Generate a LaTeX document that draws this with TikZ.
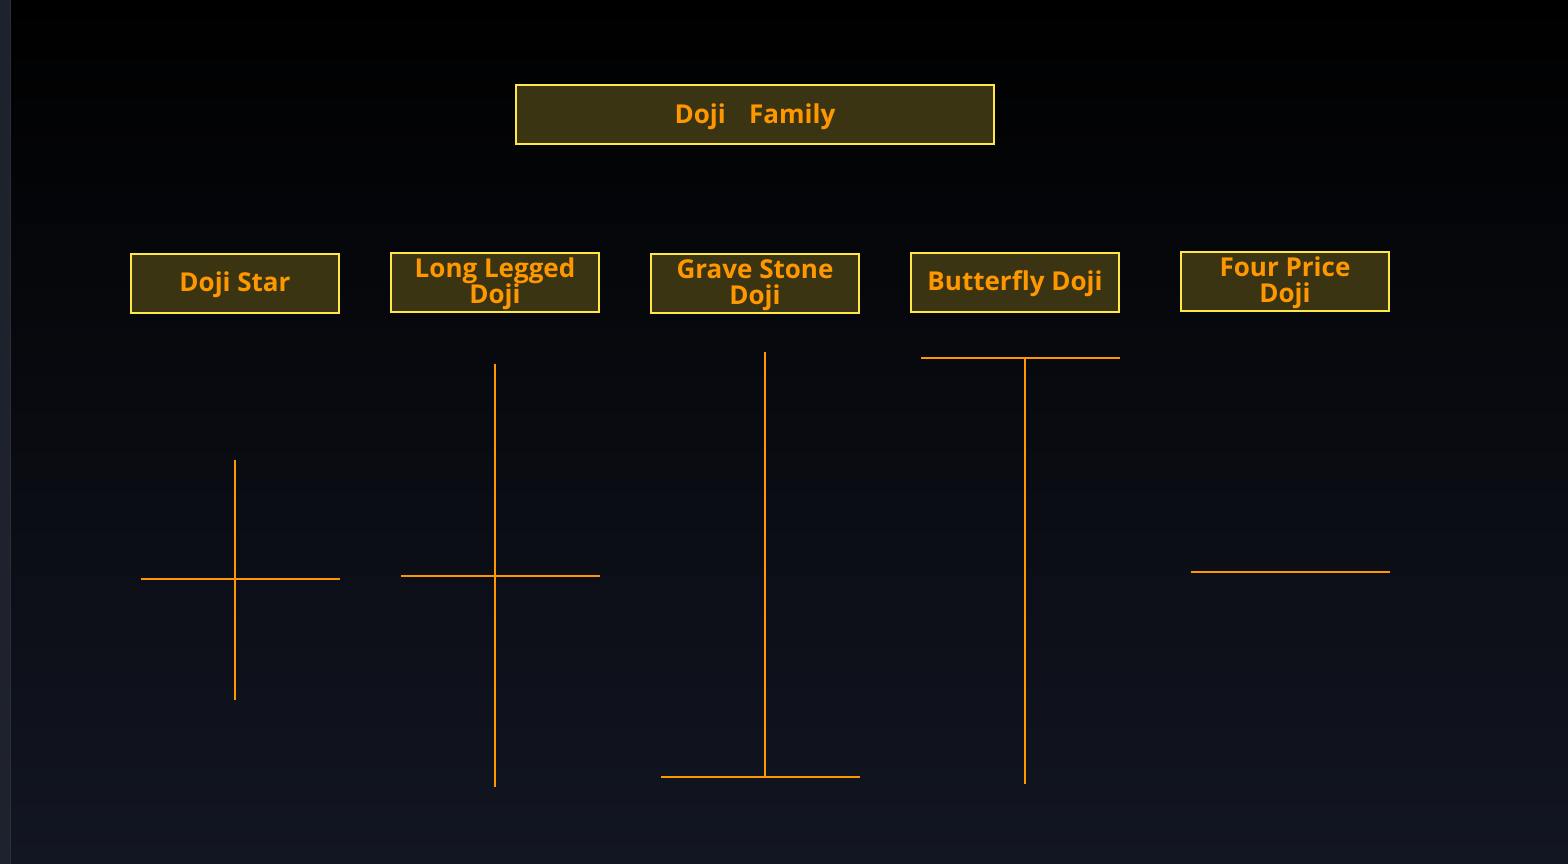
\documentclass[tikz,border=0pt]{standalone}
\usepackage{fontspec}
\setmainfont{Open Sans}
\definecolor{bgtop}{HTML}{000000}
\definecolor{bgbot}{HTML}{121622}
\definecolor{strip}{HTML}{1E222D}
\definecolor{stripline}{HTML}{2A2E39}
\definecolor{boxfill}{HTML}{3A3413}
\definecolor{boxline}{HTML}{FFE74A}
\definecolor{dojiorange}{HTML}{FF9800}
\tikzset{
  famlabel/.style={draw=boxline, line width=2pt, fill=boxfill, text=dojiorange,
    minimum width=208pt, minimum height=59pt, inner sep=0pt, align=center,
    text depth=2pt, font=\fontsize{26}{26}\selectfont\bfseries},
  wick/.style={draw=dojiorange, line width=2pt}
}
\begin{document}
\begin{tikzpicture}[x=1pt, y=-1pt]
    % Background
    \shade[top color=bgtop, bottom color=bgbot] (0,0) rectangle (1568,863);
    \fill[strip] (0,0) rectangle (10,863);
    \draw[stripline, line width=1pt] (10,0) -- (10,863);
    \useasboundingbox (0,0) rectangle (1568,863);

    % Draw nodes
    \node[famlabel, minimum width=478pt] (family) at (755,114.5) {Doji\hspace{0.9em}Family};
    \node[famlabel] (star) at (235,282.5) {Doji Star};
    \node[famlabel] (long) at (495,281.5) {Long Legged\\Doji};
    \node[famlabel] (grave) at (755,282.5) {Grave Stone\\Doji};
    \node[famlabel] (butterfly) at (1015,281.5) {Butterfly Doji};
    \node[famlabel] (four) at (1285,280.5) {Four Price\\Doji};

    % Draw candles
    \draw[wick] (235,459) -- (235,699);
    \draw[wick] (141,578) -- (340,578);
    \draw[wick] (495,363) -- (495,786);
    \draw[wick] (401,575) -- (600,575);
    \draw[wick] (765,351) -- (765,776);
    \draw[wick] (661,776) -- (860,776);
    \draw[wick] (921,357) -- (1120,357);
    \draw[wick] (1025,357) -- (1025,783);
    \draw[wick] (1191,571) -- (1390,571);
\end{tikzpicture}
\end{document}
